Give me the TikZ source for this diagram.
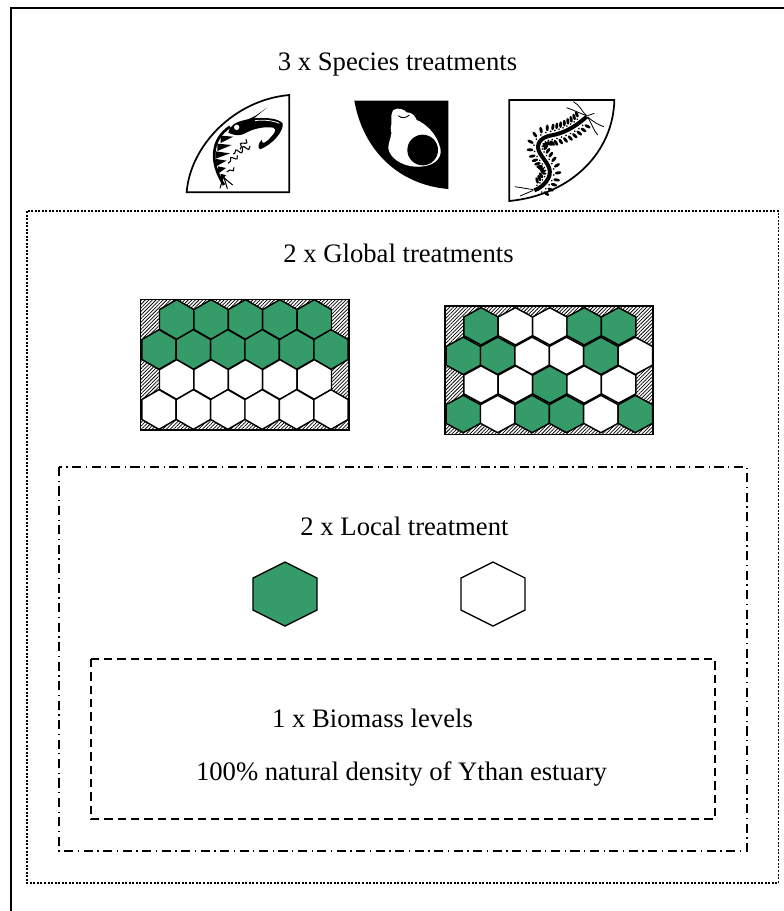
\documentclass[tikz,border=0pt]{standalone}
\usepackage{fontspec}
\setmainfont{Liberation Serif}
\usepackage{color}
\definecolor{myleafgreen}{RGB}{53,155,105}
\usepackage{tikz}
\usetikzlibrary{patterns.meta,shapes.geometric,decorations.markings,decorations.pathmorphing}
\tikzstyle{hexcell}=[draw,line width=1.1pt,regular polygon,regular polygon sides=6,shape border rotate=30,minimum size=29.8pt,inner sep=0pt]
\tikzstyle{bighex}=[draw,line width=1pt,regular polygon,regular polygon sides=6,shape border rotate=30,minimum size=48pt,inner sep=0pt,xscale=1.155]
\tikzstyle{hatched}=[draw,line width=1pt,pattern={Lines[angle=45,distance=1.9pt,line width=.55pt]}]
\tikzstyle{caption}=[font=\fontsize{20}{24}\selectfont,inner sep=0pt,anchor=base]
\tikzstyle{legs}=[decoration={markings,mark=between positions 0 and 1 step 3.4pt with {
    \fill (0,6.4pt) [rotate=20] ellipse [x radius=1.15pt,y radius=2.5pt];
    \fill (0,-6.4pt) [rotate=-20] ellipse [x radius=1.15pt,y radius=2.5pt];
    \fill (0,3.1pt) circle (.7pt);
    \fill (0,-3.1pt) circle (.7pt);
  }},postaction={decorate}]
\begin{document}
\begin{tikzpicture}[x=.75pt,y=-.75pt]
\useasboundingbox (0,0) rectangle (784,911);
\draw [line width=1.1pt] (784,8) -- (11,8) -- (11,911);
\draw [line width=1.1pt,dash pattern=on 1.5pt off 1.15pt] (27,211) rectangle (778.5,883);
\draw [line width=1.1pt,dash pattern=on 6.8pt off 3.4pt on 1pt off 3.4pt] (59,467) rectangle (747,851);
\draw [line width=1.1pt,dash pattern=on 6.2pt off 3.8pt] (91,659) rectangle (715,819);

\node [caption] (species) at (397.5,70) {3 x Species treatments};
\node [caption] (global) at (398.5,262) {2 x Global treatments};
\node [caption] (local) at (404.5,535) {2 x Local treatment};
\node [caption] (biomass) at (372.5,727) {1 x Biomass levels};
\node [caption] (density) at (401.5,780) {100\% natural density of Ythan estuary};

% shrimp
\begin{scope}[shift={(180,90)},scale=1/3]
  \draw [line width=1.3pt] (20,307) .. controls (30,170) and (160,30) .. (328,15) -- (328,307) -- cycle;
  \fill (262,52) -- (222,85) .. controls (260,82) and (295,85) .. (308,100)
    .. controls (312,125) and (275,165) .. (240,178) .. controls (232,172) and (235,160) .. (245,150)
    .. controls (246,162) and (252,160) .. (262,152) .. controls (285,130) and (292,118) .. (280,113)
    .. controls (250,108) and (215,118) .. (195,130) .. controls (175,140) and (160,135) .. (145,128)
    .. controls (150,105) and (170,95) .. (195,90) .. controls (220,85) and (240,68) .. (262,52) -- cycle;
  \fill [white] (170,112) circle (8);
  \draw [white,line width=.6pt] (225,92) .. controls (250,88) and (280,92) .. (298,100);
  \draw [line width=2pt] (150,110) .. controls (90,150) and (90,220) .. (132,285);
  \foreach \ax/\ay/\bx/\by in {122/148/160/140,112/172/155/165,107/195/150/190,108/218/140/212,114/240/138/234,122/262/138/256}{
    \fill (\ax,\ay-11) -- (\bx,\by) -- (\ax,\ay+11) -- cycle;
  }
  \draw [line width=.8pt] (130,262) -- (120,295);
  \draw [line width=.8pt] (132,262) -- (142,296);
  \draw [line width=.8pt] (130,262) -- (158,285);
  \foreach \ax/\ay/\bx/\by in {198/148/180/178,210/168/160/192,172/196/144/220,162/232/140/246}{
    \draw [line width=.8pt,decorate,decoration={snake,amplitude=1.9pt,segment length=6pt}] (\ax,\ay) -- (\bx,\by);
  }
\end{scope}

% snail
\begin{scope}[shift={(350,95)},scale=1/3]
  \fill (13,17) -- (295,17) -- (295,282) .. controls (150,270) and (40,170) .. (13,17) -- cycle;
  \fill [white] (130,45) .. controls (145,35) and (165,45) .. (170,52) .. controls (185,52) and (195,62) .. (200,75)
    .. controls (225,85) and (262,115) .. (272,165) .. controls (275,195) and (245,218) .. (195,215)
    .. controls (155,212) and (120,190) .. (115,160) .. controls (115,135) and (130,120) .. (122,100)
    .. controls (128,85) and (118,65) .. (130,45) -- cycle;
  \fill (218,165) circle (46);
  \draw [line width=.7pt] (145,62) .. controls (155,72) and (170,68) .. (178,60);
\end{scope}

% worm
\begin{scope}[shift={(505,95)},scale=1/3]
  \draw [line width=1.3pt] (13,15) -- (328,15) .. controls (325,170) and (200,300) .. (13,318) -- cycle;
  \path [legs] (225,82) .. controls (205,100) and (175,115) .. (135,122)
    .. controls (105,128) and (90,150) .. (105,175) .. controls (120,200) and (145,220) .. (130,250)
    .. controls (120,268) and (110,278) .. (92,288);
  \draw [line width=3pt] (245,65) .. controls (205,100) and (175,115) .. (135,122)
    .. controls (105,128) and (90,150) .. (105,175) .. controls (120,200) and (145,220) .. (130,250)
    .. controls (120,268) and (105,280) .. (88,286);
  \draw [line width=.6pt] (245,62) .. controls (230,50) and (225,30) .. (205,20);
  \draw [line width=.6pt] (245,62) .. controls (225,55) and (205,45) .. (185,38);
  \draw [line width=.6pt] (247,62) -- (268,55);
  \draw [line width=.6pt] (248,66) .. controls (265,80) and (280,90) .. (297,95);
  \draw [line width=.6pt] (248,66) .. controls (260,85) and (265,105) .. (278,120);
  \draw [line width=.6pt] (85,284) -- (30,275) -- (60,280);
  \draw [line width=.6pt] (85,286) -- (45,303);
\end{scope}

% grid with the green cells together
\draw [hatched] (140.7,299.3) rectangle (349,430);
\foreach \yy/\xx/\cells [count=\r] in {
  319.5/176.7/{myleafgreen,myleafgreen,myleafgreen,myleafgreen,myleafgreen},
  349.5/159/{myleafgreen,myleafgreen,myleafgreen,myleafgreen,myleafgreen,myleafgreen},
  379.5/176.7/{white,white,white,white,white},
  409.5/159/{white,white,white,white,white,white}}{
  \foreach \c [count=\i from 0] in \cells {
    \node [hexcell,fill=\c] (a\r-\i) at (\xx+\i*34.4,\yy) {};
  }
}

% grid with the green cells scattered
\draw [hatched] (445,306) rectangle (653,434.3);
\foreach \yy/\xx/\cells [count=\r] in {
  326.3/481/{myleafgreen,white,white,myleafgreen,myleafgreen},
  355.8/463.3/{myleafgreen,myleafgreen,white,white,myleafgreen,white},
  384.5/481/{white,white,myleafgreen,white,white},
  414/463.3/{myleafgreen,white,myleafgreen,myleafgreen,white,myleafgreen}}{
  \foreach \c [count=\i from 0] in \cells {
    \node [hexcell,yscale=.94,fill=\c] (b\r-\i) at (\xx+\i*34.4,\yy) {};
  }
}

\node [bighex,fill=myleafgreen] (greenhex) at (285,594) {};
\node [bighex,fill=white] (whitehex) at (493,594) {};
\end{tikzpicture}
\end{document}
